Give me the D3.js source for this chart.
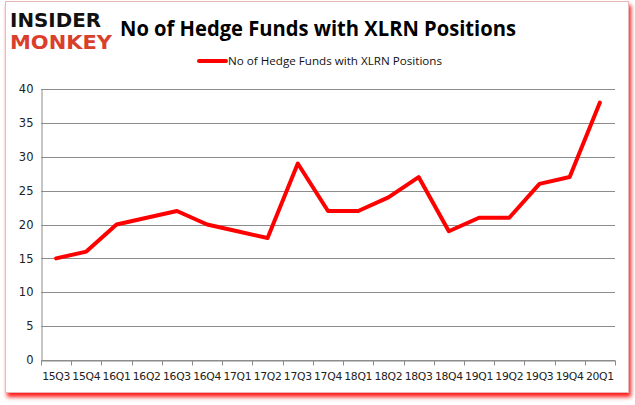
<!DOCTYPE html>
<html>
<head>
<meta charset="utf-8">
<script src="https://cdn.jsdelivr.net/npm/d3@7"></script>
<style>
  body { margin: 0; background: #fff; }
  svg { display: block; }
</style>
</head>
<body>
<svg id="chart"></svg>
<script>
// Data
const quarters = ["15Q3","15Q4","16Q1","16Q2","16Q3","16Q4","17Q1","17Q2","17Q3","17Q4",
                  "18Q1","18Q2","18Q3","18Q4","19Q1","19Q2","19Q3","19Q4","20Q1"];
const funds = [15, 16, 20, 21, 22, 20, 19, 18, 29, 22, 22, 24, 27, 19, 21, 21, 26, 27, 38];
const yTicks = [0, 5, 10, 15, 20, 25, 30, 35, 40];
const seriesName = "No of Hedge Funds with XLRN Positions";

const width = 635, height = 405;
const margin = { top: 89, right: 20, bottom: 45, left: 41 };

const svg = d3.select("#chart")
    .attr("width", width)
    .attr("height", height);

// Frame with red shadow
const defs = svg.append("defs");
const f = defs.append("filter").attr("id", "shadow")
    .attr("x", "-5%").attr("y", "-5%").attr("width", "112%").attr("height", "115%");
f.append("feDropShadow").attr("dx", 2).attr("dy", 4).attr("stdDeviation", 2)
    .attr("flood-color", "#ff0000").attr("flood-opacity", 0.9);

svg.append("rect")
    .attr("x", 5.5).attr("y", 1.5)
    .attr("width", 623).attr("height", 391)
    .attr("fill", "#fff")
    .attr("stroke", "#e8b8b8")
    .attr("stroke-width", 1)
    .attr("filter", "url(#shadow)");

// Scales
const x = d3.scaleBand()
    .domain(quarters)
    .range([margin.left, width - margin.right]);

const y = d3.scaleLinear()
    .domain([0, 40])
    .range([360, margin.top]);

// Gridlines
svg.append("g")
    .selectAll("line")
    .data(yTicks)
    .join("line")
    .attr("x1", margin.left)
    .attr("x2", width - margin.right)
    .attr("y1", d => Math.round(y(d)) + 0.5)
    .attr("y2", d => Math.round(y(d)) + 0.5)
    .attr("stroke", "#8c8c8c")
    .attr("stroke-width", 1);

// Y axis
const yAxis = svg.append("g")
    .attr("transform", `translate(${margin.left + 0.5},0)`)
    .call(d3.axisLeft(y).tickValues(yTicks).tickSize(0).tickPadding(8));
yAxis.select(".domain").attr("stroke", "#8c8c8c");
yAxis.selectAll("text")
    .attr("font-family", "DejaVu Sans, Verdana, sans-serif")
    .attr("font-size", 11.5)
    .attr("fill", "#222");

// X axis
const xAxis = svg.append("g")
    .attr("transform", `translate(0,${Math.round(y(0)) + 0.5})`)
    .call(d3.axisBottom(x).tickSize(0).tickPadding(12));
xAxis.select(".domain").attr("stroke", "#8c8c8c");
xAxis.selectAll("text")
    .attr("font-family", "DejaVu Sans, Verdana, sans-serif")
    .attr("font-size", 10.8)
    .attr("letter-spacing", -0.3)
    .attr("fill", "#222");
// tick marks on band boundaries
xAxis.append("g")
    .selectAll("line")
    .data(d3.range(quarters.length + 1))
    .join("line")
    .attr("x1", i => Math.round(margin.left + i * x.step()) + 0.5)
    .attr("x2", i => Math.round(margin.left + i * x.step()) + 0.5)
    .attr("y1", 0)
    .attr("y2", 5)
    .attr("stroke", "#8c8c8c");

// Line
const line = d3.line()
    .x((d, i) => x(quarters[i]) + x.bandwidth() / 2)
    .y(d => y(d));

svg.append("path")
    .datum(funds)
    .attr("d", line)
    .attr("fill", "none")
    .attr("stroke", "#ff0000")
    .attr("stroke-width", 4)
    .attr("stroke-linejoin", "round")
    .attr("stroke-linecap", "round");

// Title
svg.append("text")
    .attr("x", 318)
    .attr("y", 36)
    .attr("text-anchor", "middle")
    .attr("font-family", "Open Sans, Liberation Sans, sans-serif")
    .attr("font-weight", "bold")
    .attr("font-size", 22)
    .attr("textLength", 396)
    .attr("lengthAdjust", "spacingAndGlyphs")
    .attr("fill", "#000")
    .text(seriesName);

// Legend
svg.append("line")
    .attr("x1", 199).attr("x2", 226)
    .attr("y1", 61).attr("y2", 61)
    .attr("stroke", "#ff0000")
    .attr("stroke-width", 4)
    .attr("stroke-linecap", "round");
svg.append("text")
    .attr("x", 228)
    .attr("y", 65)
    .attr("font-family", "Open Sans, Liberation Sans, sans-serif")
    .attr("font-size", 11.5)
    .attr("textLength", 214)
    .attr("lengthAdjust", "spacingAndGlyphs")
    .attr("fill", "#111")
    .text(seriesName);

// Logo
svg.append("text")
    .attr("x", 10)
    .attr("y", 27)
    .attr("font-family", "DejaVu Sans, sans-serif")
    .attr("font-weight", "bold")
    .attr("font-size", 19)
    .attr("textLength", 91)
    .attr("lengthAdjust", "spacingAndGlyphs")
    .attr("fill", "#111")
    .text("INSIDER");
svg.append("text")
    .attr("x", 10)
    .attr("y", 49)
    .attr("font-family", "DejaVu Sans, sans-serif")
    .attr("font-weight", "bold")
    .attr("font-size", 19)
    .attr("textLength", 102)
    .attr("lengthAdjust", "spacingAndGlyphs")
    .attr("fill", "#d9402b")
    .text("MONKEY");
</script>
</body>
</html>
